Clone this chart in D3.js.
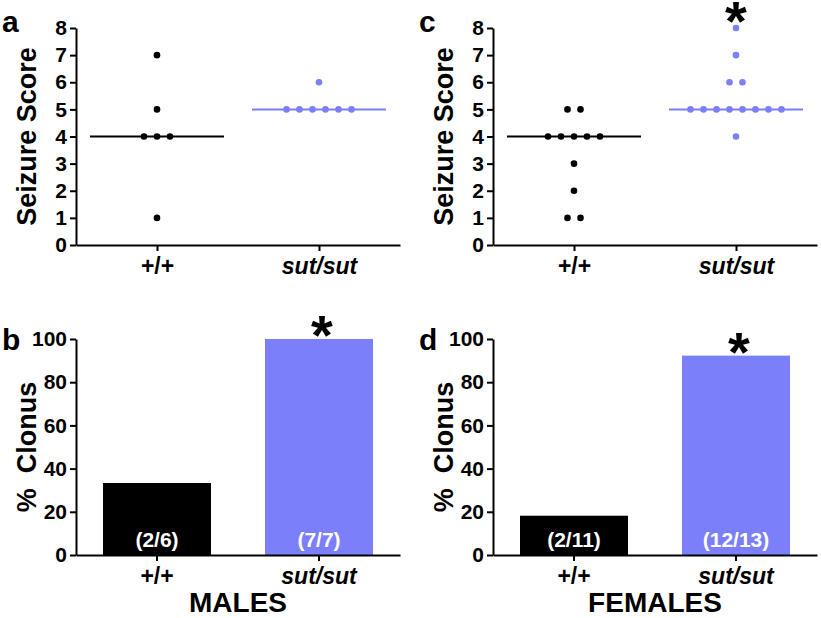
<!DOCTYPE html>
<html>
<head>
<meta charset="utf-8">
<script src="https://cdn.jsdelivr.net/npm/d3@7"></script>
<style>
  body { margin: 0; background: #fff; }
  text { font-family: "Liberation Sans", Arial, sans-serif; font-weight: bold; }
</style>
</head>
<body>
<div id="fig"></div>
<script>
// data
var groups = ["+/+", "sut/sut"];
var scoreTicks = [0, 1, 2, 3, 4, 5, 6, 7, 8];
var clonusTicks = [0, 20, 40, 60, 80, 100];

var malesWT = [7, 5, 4, 4, 4, 1];
var malesSut = [6, 5, 5, 5, 5, 5, 5];
var femalesWT = [5, 5, 4, 4, 4, 4, 4, 3, 2, 1, 1];
var femalesSut = [8, 7, 6, 6, 5, 5, 5, 5, 5, 5, 5, 5, 4];

var malesClonus = [[2, 6], [7, 7]];      // [with clonus, total]
var femalesClonus = [[2, 11], [12, 13]];

var scoreSig = { males: [false, false], females: [false, true] };
var clonusSig = { males: [false, true], females: [false, true] };

var width = 821, height = 618;
var blue = "#7b7ffa";
var colors = ["#000", blue];

var svg = d3.select("#fig").append("svg")
	.attr("width", width)
	.attr("height", height);

svg.append("rect").attr("width", width).attr("height", height).attr("fill", "#fff");

function styleAxis(g, fs) {
	g.select(".domain").attr("stroke", "#000").attr("stroke-width", 2);
	g.selectAll(".tick line").attr("stroke", "#000").attr("stroke-width", 2);
	g.selectAll(".tick text")
		.attr("fill", "#000")
		.style("font-size", fs + "px")
		.style("font-family", "'Liberation Sans', Arial, sans-serif")
		.style("font-weight", "bold");
}

function groupAxis(g, fs) {
	styleAxis(g, fs);
	g.selectAll(".tick text").style("font-style", function(d) {
		return d == "sut/sut" ? "italic" : "normal";
	});
}

function panelLetter(x, y, t) {
	svg.append("text").attr("x", x).attr("y", y)
		.style("font-size", "30px").text(t);
}

function yLabel(x, y, t) {
	svg.append("text")
		.attr("transform", "translate(" + x + "," + y + ") rotate(-90)")
		.attr("text-anchor", "middle")
		.style("font-size", "27px")
		.style("white-space", "pre")
		.text(t);
}

// y is the visual centre of the asterisk
function star(x, y) {
	svg.append("text").attr("x", x).attr("y", y + 27)
		.attr("text-anchor", "middle")
		.style("font-size", "56px")
		.text("*");
}

function scatterPanel(ox, top, bottom, series, sig, letter) {
	var x = d3.scalePoint().domain(groups).range([ox, ox + 324]).padding(0.5);
	var y = d3.scaleLinear().domain([0, 8]).range([bottom, top]);
	var g = svg.append("g");

	series.forEach(function(vals, i) {
		var cx = x(groups[i]);
		var med = d3.median(vals);
		g.append("line")
			.attr("x1", cx - 67).attr("x2", cx + 67)
			.attr("y1", y(med)).attr("y2", y(med))
			.attr("stroke", colors[i]).attr("stroke-width", 2);

		// spread equal scores side by side
		var byVal = d3.group(vals, function(v) { return v; });
		var pts = [];
		byVal.forEach(function(arr, v) {
			arr.forEach(function(_, j) {
				pts.push({ v: v, off: (j - (arr.length - 1) / 2) * 13 });
			});
		});
		g.selectAll(null).data(pts).enter().append("circle")
			.attr("cx", function(d) { return cx + d.off; })
			.attr("cy", function(d) { return y(d.v); })
			.attr("r", 3.3)
			.attr("fill", colors[i]);

		if (sig[i]) star(cx, y(d3.max(vals)) - 15);
	});

	svg.append("g").attr("transform", "translate(" + ox + ",0)")
		.call(d3.axisLeft(y).tickValues(scoreTicks).tickSize(6).tickSizeOuter(0).tickPadding(3))
		.call(styleAxis, 21);
	svg.append("g").attr("transform", "translate(0," + bottom + ")")
		.call(d3.axisBottom(x).tickSize(6).tickSizeOuter(0).tickPadding(7))
		.call(groupAxis, 23);

	yLabel(ox - 40, (top + bottom) / 2, "Seizure Score");
	panelLetter(ox - 74, top + 4, letter);
}

function barPanel(ox, top, bottom, counts, sig, letter, title) {
	var x = d3.scaleBand().domain(groups).range([ox, ox + 324])
		.paddingInner(1 / 3).paddingOuter(1 / 6);
	var y = d3.scaleLinear().domain([0, 100]).range([bottom, top]);
	var g = svg.append("g");

	counts.forEach(function(c, i) {
		var val = c[0] / c[1] * 100;
		g.append("rect")
			.attr("x", x(groups[i])).attr("width", x.bandwidth())
			.attr("y", y(val)).attr("height", y(0) - y(val))
			.attr("fill", colors[i]);
		g.append("text")
			.attr("x", x(groups[i]) + x.bandwidth() / 2)
			.attr("y", bottom - 8)
			.attr("text-anchor", "middle")
			.attr("fill", "#fff")
			.style("font-size", "21px")
			.text("(" + c[0] + "/" + c[1] + ")");
		if (sig[i]) star(x(groups[i]) + x.bandwidth() / 2 + 3, y(val) - 12);
	});

	svg.append("g").attr("transform", "translate(" + ox + ",0)")
		.call(d3.axisLeft(y).tickValues(clonusTicks).tickSize(6).tickSizeOuter(0).tickPadding(3))
		.call(styleAxis, 21);
	svg.append("g").attr("transform", "translate(0," + bottom + ")")
		.call(d3.axisBottom(x).tickSize(6).tickSizeOuter(0).tickPadding(7))
		.call(groupAxis, 23);

	yLabel(ox - 40, (top + bottom) / 2, "%  Clonus");
	panelLetter(ox - 74, top + 11, letter);

	svg.append("text")
		.attr("x", ox + 162).attr("y", 612)
		.attr("text-anchor", "middle")
		.style("font-size", "28px")
		.text(title);
}

scatterPanel(76, 28, 245, [malesWT, malesSut], scoreSig.males, "a");
scatterPanel(493, 28, 245, [femalesWT, femalesSut], scoreSig.females, "c");
barPanel(76, 339, 555, malesClonus, clonusSig.males, "b", "MALES");
barPanel(493, 339, 555, femalesClonus, clonusSig.females, "d", "FEMALES");
</script>
</body>
</html>
